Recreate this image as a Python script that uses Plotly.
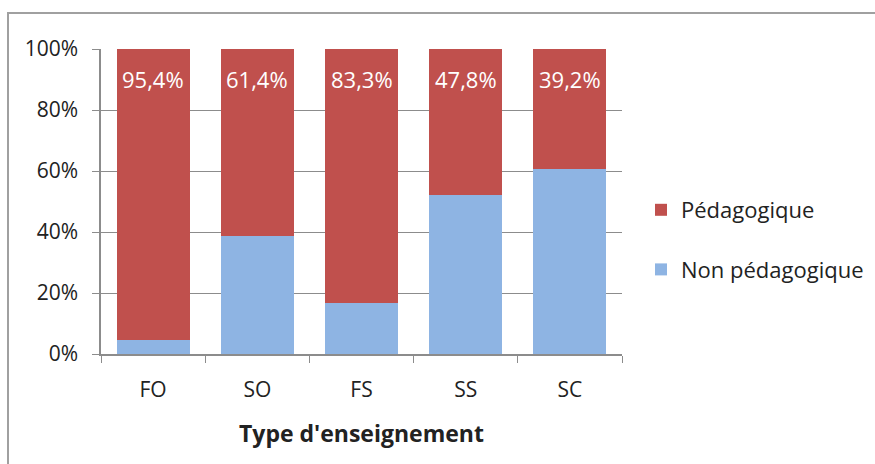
import plotly.graph_objects as go

# Répartition par type d'enseignement (en %)
categories = ["FO", "SO", "FS", "SS", "SC"]
pedagogique = [95.4, 61.4, 83.3, 47.8, 39.2]
non_pedagogique = [round(100 - v, 1) for v in pedagogique]
y_ticks = [0, 20, 40, 60, 80, 100]
y_tick_labels = [f"{t}%" for t in y_ticks]

RED = "#C0504D"
BLUE = "#8EB4E3"
GRID = "#8C8C8C"
FONT = "Open Sans, Noto Sans, sans-serif"
TXT = "#222222"

W, H = 875, 464
L, R, T, B = 101, 0, 49, 110
PLOT_RIGHT = 622          # bord droit de la zone de tracé (px)
pw, ph = W - L - R, H - T - B


def px_x(px):
    return (px - L) / pw


def px_y(py):
    return (H - B - py) / ph


fig = go.Figure()
fig.add_trace(go.Bar(
    x=categories, y=non_pedagogique, name="Non pédagogique",
    marker=dict(color=BLUE, line=dict(width=0)), legendgroup="b", legendrank=2,
))
fig.add_trace(go.Bar(
    x=categories, y=pedagogique, name="Pédagogique",
    marker=dict(color=RED, line=dict(width=0)), legendgroup="a", legendrank=1,
))

# Valeur affichée en haut de chaque barre « Pédagogique »
for c, v in zip(categories, pedagogique):
    fig.add_annotation(
        x=c, y=100, xref="x", yref="y", yanchor="middle", yshift=-30,
        text=f"{v:.1f}%".replace(".", ","), showarrow=False,
        font=dict(family=FONT, size=22, color="white"),
    )

# Cadre de la zone graphique
fig.add_shape(
    type="rect", xref="paper", yref="paper",
    x0=px_x(8), x1=px_x(W + 10), y0=px_y(H + 10), y1=px_y(13),
    line=dict(color="#A0A0A0", width=2), fillcolor="rgba(0,0,0,0)",
    layer="below",
)

fig.update_layout(
    width=W, height=H,
    margin=dict(l=L, r=R, t=T, b=B, pad=0),
    barmode="stack", bargap=0.3,
    plot_bgcolor="white", paper_bgcolor="white",
    font=dict(family=FONT, size=21, color=TXT),
    showlegend=True,
    legend=dict(
        x=px_x(641), y=px_y(240), xanchor="left", yanchor="middle",
        traceorder="grouped", tracegroupgap=28,
        font=dict(family=FONT, size=22, color=TXT),
        itemwidth=30, bgcolor="rgba(0,0,0,0)",
    ),
    xaxis=dict(
        domain=[0, (PLOT_RIGHT - L) / pw],
        type="category", showline=True, linecolor=GRID, linewidth=1.5,
        ticks="outside", tickson="boundaries", ticklen=7, tickcolor=GRID,
        tickfont=dict(size=21), showgrid=False, ticklabelstandoff=16,
        title=dict(text="<b>Type d'enseignement</b>", font=dict(size=23), standoff=24),
    ),
    yaxis=dict(
        range=[0, 100], tickvals=y_ticks, ticktext=y_tick_labels,
        showline=True, linecolor=GRID, linewidth=1.5,
        ticks="outside", ticklen=7, tickcolor=GRID,
        showgrid=True, gridcolor=GRID, gridwidth=1.2,
        tickfont=dict(size=21), zeroline=False, ticklabelstandoff=10,
    ),
)

fig.write_html("out.html")
